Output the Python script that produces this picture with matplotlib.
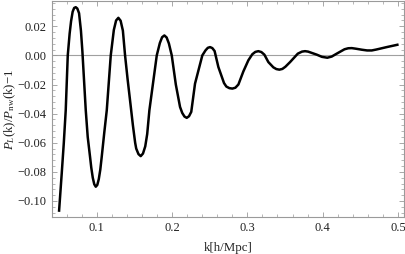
import matplotlib
matplotlib.use('agg')
import matplotlib.pyplot as plt
from matplotlib.ticker import MultipleLocator

# values
k = [0.0500, 0.0535, 0.0562, 0.0588, 0.0615, 0.0640, 0.0659, 0.0680, 0.0700,
     0.0721, 0.0742, 0.0765, 0.0790, 0.0809, 0.0830, 0.0854, 0.0880, 0.0911,
     0.0927, 0.0947, 0.0967, 0.0987, 0.1007, 0.1027, 0.1047, 0.1066, 0.1100,
     0.1133, 0.1186, 0.1227, 0.1257, 0.1287, 0.1317, 0.1347, 0.1376, 0.1410,
     0.1442, 0.1480, 0.1510, 0.1524, 0.1554, 0.1584, 0.1614, 0.1644, 0.1670,
     0.1699, 0.1797, 0.1838, 0.1868, 0.1898, 0.1928, 0.1958, 0.1996, 0.2050,
     0.2106, 0.2135, 0.2165, 0.2195, 0.2225, 0.2255, 0.2305, 0.2402, 0.2445,
     0.2475, 0.2505, 0.2535, 0.2565, 0.2615, 0.2690, 0.2721, 0.2761, 0.2801,
     0.2841, 0.2881, 0.2947, 0.3013, 0.3066, 0.3106, 0.3146, 0.3186, 0.3226,
     0.3279, 0.3345, 0.3385, 0.3425, 0.3465, 0.3505, 0.3567, 0.3670, 0.3726,
     0.3766, 0.3806, 0.3850, 0.3922, 0.3990, 0.4062, 0.4120, 0.4187, 0.4290,
     0.4340, 0.4386, 0.4440, 0.4520, 0.4590, 0.4652, 0.4710, 0.4760, 0.4851,
     0.4992]
ratio = [-0.1066, -0.0810, -0.0605, -0.0377, 0.0000, 0.0150, 0.0235, 0.0300, 0.0326,
         0.0331, 0.0322, 0.0290, 0.0170, 0.0030, -0.0160, -0.0377, -0.0560, -0.0697,
         -0.0770, -0.0840, -0.0885, -0.0902, -0.0890, -0.0850, -0.0785, -0.0697, -0.0530,
         -0.0377, 0.0000, 0.0175, 0.0240, 0.0258, 0.0238, 0.0170, 0.0000, -0.0165,
         -0.0308, -0.0480, -0.0600, -0.0640, -0.0678, -0.0692, -0.0674, -0.0625, -0.0540,
         -0.0377, 0.0000, 0.0085, 0.0125, 0.0137, 0.0123, 0.0082, 0.0000, -0.0200,
         -0.0354, -0.0395, -0.0420, -0.0429, -0.0418, -0.0388, -0.0194, 0.0000, 0.0035,
         0.0052, 0.0057, 0.0050, 0.0030, -0.0080, -0.0190, -0.0214, -0.0225, -0.0228,
         -0.0222, -0.0200, -0.0110, -0.0034, 0.0008, 0.0024, 0.0029, 0.0023, 0.0005,
         -0.0046, -0.0082, -0.0094, -0.0098, -0.0093, -0.0078, -0.0046, 0.0012, 0.0026,
         0.0029, 0.0026, 0.0018, 0.0005, -0.0010, -0.0016, -0.0008, 0.0012, 0.0042,
         0.0049, 0.0050, 0.0046, 0.0039, 0.0034, 0.0034, 0.0040, 0.0046, 0.0057,
         0.0073]

plt.rcParams['font.family'] = 'Liberation Serif'
plt.rcParams['mathtext.fontset'] = 'custom'
plt.rcParams['mathtext.rm'] = 'Liberation Serif'
plt.rcParams['mathtext.it'] = 'Liberation Serif:italic'

fig = plt.figure(figsize=(4.05, 2.54), dpi=100)
ax = fig.add_axes([0.1277, 0.1457, 0.8698, 0.8523])

frame_col = '#9a9a9a'
ax.axhline(0, color='#a0a0a0', lw=0.8, zorder=1)
ax.plot(k, ratio, color='black', lw=1.8, zorder=2, solid_joinstyle='round')

ax.set_xlim(0.0402, 0.508)
ax.set_ylim(-0.111, 0.0377)
ax.xaxis.set_major_locator(MultipleLocator(0.1))
ax.xaxis.set_minor_locator(MultipleLocator(0.02))
ax.yaxis.set_major_locator(MultipleLocator(0.02))
ax.yaxis.set_minor_locator(MultipleLocator(0.004))
ax.xaxis.set_major_formatter(plt.FuncFormatter(lambda v, p: '%.1f' % v))
ax.yaxis.set_major_formatter(plt.FuncFormatter(
    lambda v, p: ('%.2f' % v).replace('-', '\u2212') if abs(v) > 1e-9 else '0.00'))

for s in ax.spines.values():
    s.set_color(frame_col)
    s.set_linewidth(0.8)
ax.tick_params(which='both', direction='in', top=True, right=True,
               color=frame_col, labelsize=9, labelcolor='#222222')
ax.tick_params(which='major', length=3.5, width=0.6, pad=3.5)
ax.tick_params(which='minor', length=2, width=0.5)

ax.set_xlabel('k[h/Mpc]', fontsize=9.3, color='#222222', labelpad=6)
ax.set_ylabel(r'$P_L(\mathrm{k})/P_{\mathrm{nw}}(\mathrm{k})\!-\!1$',
              fontsize=9.3, color='#222222')
ax.yaxis.set_label_coords(-0.097, 0.5)

fig.savefig('out.png', dpi=100)
